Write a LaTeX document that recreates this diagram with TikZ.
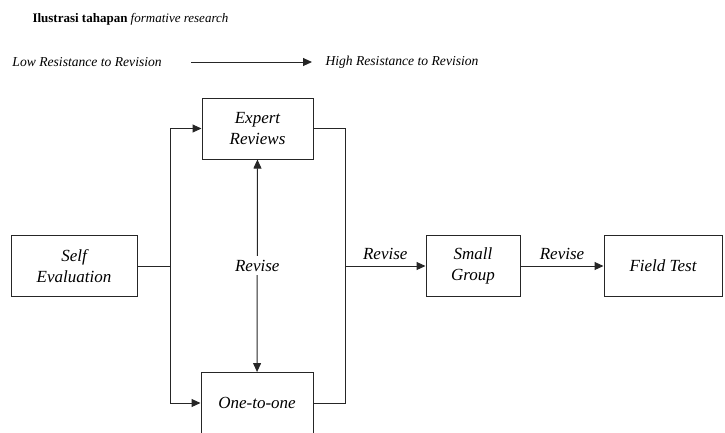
\documentclass[tikz,border=0pt]{standalone}
\usepackage{fontspec}
\setmainfont{Liberation Serif}
\usetikzlibrary{arrows.meta,positioning}
\tikzset{
	stage/.style={draw, inner sep=0, align=center,
		minimum height=61, font=\itshape\fontsize{17}{21}\selectfont},
	caption/.style={inner sep=0, anchor=west, font=\fontsize{13}{16}\selectfont},
	flowlabel/.style={inner sep=0, font=\itshape\fontsize{17}{20}\selectfont}
}

\begin{document}
\begin{tikzpicture}[x=1pt, y=-1pt, line width=1pt, draw=black!85,
				>={Triangle[length=9pt,width=8pt]}]
				\clip (0,0) rectangle (725,432);
				% heading and direction of resistance
				\node[caption] (title) at (32, 19) {\textbf{Ilustrasi tahapan} \textit{formative research}};
				\node[caption, font=\itshape\fontsize{13.6}{16}\selectfont] (low) at (12, 62) {Low Resistance to Revision};
				\node[caption, font=\itshape\fontsize{13.6}{16}\selectfont] (high) at (325, 62) {High Resistance to Revision};
				\draw[->, shorten <=29pt, shorten >=13pt] (low) -- (high);
				
				% stages
				\node[stage, minimum width=126] (self) at (74, 266) {Self\\Evaluation};
				\node[stage, minimum width=111] (expert) at (257.5, 128.5) {Expert\\Reviews};
				\node[stage, minimum width=112] (one) at (257, 403) {One-to-one};
				\node[stage, minimum width=94] (small) at (473, 266) {Small\\Group};
				\node[stage, minimum width=118] (field) at (663, 266) {Field Test};
				
				\coordinate (split) at (170, 266);
				\coordinate (join) at (345, 266);
				
				\draw (self) -- (split);
				\draw[->] (split) |- (expert.west);
				\draw[->] (split) |- (one.west);
				\draw[<->] (expert) -- node[flowlabel, fill=white, inner sep=4pt] {Revise} (one);
				\draw (expert.east) -| (join);
				\draw (one.east) -| (join);
				\draw[->] (join) -- node[flowlabel, above=6pt] {Revise} (small);
				\draw[->] (small) -- node[flowlabel, above=6pt] {Revise} (field);
			\end{tikzpicture}
\end{document}
